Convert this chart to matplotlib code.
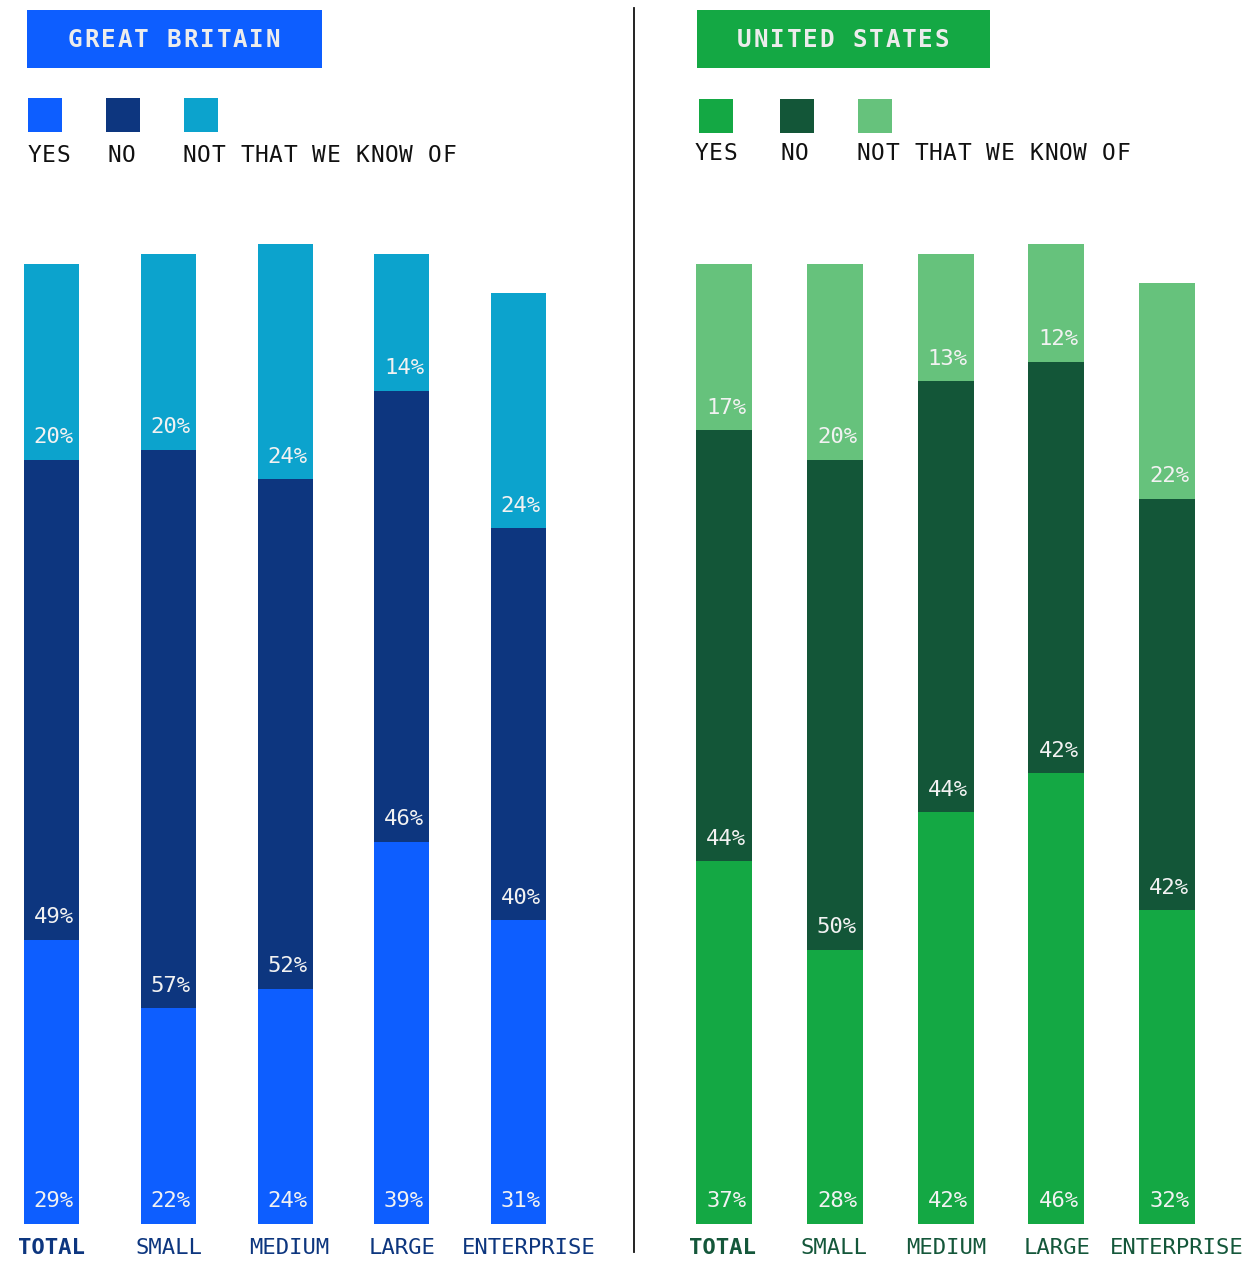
import matplotlib
matplotlib.use("Agg")
import matplotlib.pyplot as plt
from matplotlib.patches import Rectangle
from matplotlib.lines import Line2D

# ---- data ----
categories = ["TOTAL", "SMALL", "MEDIUM", "LARGE", "ENTERPRISE"]
series_names = ["YES", "NO", "NOT THAT WE KNOW OF"]

gb_yes = [29, 22, 24, 39, 31]
gb_no = [49, 57, 52, 46, 40]
gb_not_known = [20, 20, 24, 14, 24]

us_yes = [37, 28, 42, 46, 32]
us_no = [44, 50, 44, 42, 42]
us_not_known = [17, 20, 13, 12, 22]

panel_titles = ["GREAT BRITAIN", "UNITED STATES"]

# ---- styling ----
W, H = 1247, 1261
FONT = "DejaVu Sans Mono"
gb_colors = ["#0d5eff", "#0d367f", "#0ca3cd"]
us_colors = ["#14a844", "#135638", "#66c27c"]
gb_label_color = "#0d367f"
us_label_color = "#14573a"
value_color = "#f2f2f2"

fig = plt.figure(figsize=(W / 100, H / 100), dpi=100)
fig.patch.set_facecolor("white")


def fx(px):
    return px / W


def fy(py):
    return 1 - py / H


def spaced_text(x_left, y, text, advance, **kw):
    """Draw text one glyph at a time with a fixed pixel advance."""
    for i, ch in enumerate(text):
        if ch != " ":
            fig.text(fx(x_left + advance * (i + 0.5)), fy(y), ch,
                     ha="center", va="center", family=FONT, **kw)


def add_panel(left_px, right_px, center0_px, spacing_px, bar_w_px,
              yes, no, nk, colors, label_color, label_shift):
    bottom_px, top_px = 1224, 244  # 0% and 100%
    ax = fig.add_axes([fx(left_px), fy(bottom_px), fx(right_px - left_px),
                       (bottom_px - top_px) / H])
    x0 = (left_px - center0_px) / spacing_px
    x1 = (right_px - center0_px) / spacing_px
    ax.set_xlim(x0, x1)
    ax.set_ylim(0, 100)
    ax.axis("off")
    xs = list(range(len(categories)))
    width = bar_w_px / spacing_px
    bottoms = [0] * len(xs)
    for vals, col in zip([yes, no, nk], colors):
        ax.bar(xs, vals, width=width, bottom=bottoms, color=col,
               linewidth=0)
        for x, b, v in zip(xs, bottoms, vals):
            ax.text(x + 0.02, b + 2.3, f"{v}%", ha="center", va="center",
                    fontsize=16, color=value_color, family=FONT)
        bottoms = [b + v for b, v in zip(bottoms, vals)]
    for x, cat, s in zip(xs, categories, label_shift):
        ax.text(x + s / spacing_px, -2.45, cat, ha="center", va="center",
                fontsize=16, family=FONT, color=label_color,
                fontweight="bold" if cat == "TOTAL" else "normal",
                clip_on=False)
    return ax


add_panel(0, 634, 51.5, 116.75, 55, gb_yes, gb_no, gb_not_known,
          gb_colors, gb_label_color, [0, 1, 4, 0.5, 10.5])
add_panel(634, 1247, 724, 110.75, 56, us_yes, us_no, us_not_known,
          us_colors, us_label_color, [-2, -1, 1, 1, 10])


def title_box(x0, x1, text_left, color, text):
    y0, y1 = 10, 68
    fig.add_artist(Rectangle((fx(x0), fy(y1)), fx(x1 - x0), (y1 - y0) / H,
                             transform=fig.transFigure, facecolor=color,
                             edgecolor="none"))
    spaced_text(text_left, (y0 + y1) / 2 + 1, text, 16.5, fontsize=17.5,
                fontweight="bold", color="#ececec")


title_box(27, 322, 67, gb_colors[0], panel_titles[0])
title_box(697, 990, 736, us_colors[0], panel_titles[1])


def legend(square_xs, label_xs, sq_top, label_y, colors):
    for sx, lx, col, name in zip(square_xs, label_xs, colors, series_names):
        fig.add_artist(Rectangle((fx(sx), fy(sq_top + 34)), fx(34), 34 / H,
                                 transform=fig.transFigure, facecolor=col,
                                 edgecolor="none"))
        spaced_text(lx, label_y, name, 14.45, fontsize=16.5,
                    color="#111111")


legend([28, 106, 184], [27, 107, 182], 98, 155, gb_colors)
legend([699, 780, 858], [694, 780, 856], 99, 154, us_colors)

# divider between the two panels
fig.add_artist(Line2D([fx(634), fx(634)], [fy(8), fy(1252)],
                      transform=fig.transFigure, color="#111111",
                      linewidth=1.3))

fig.savefig("out.png", dpi=100, facecolor="white")
